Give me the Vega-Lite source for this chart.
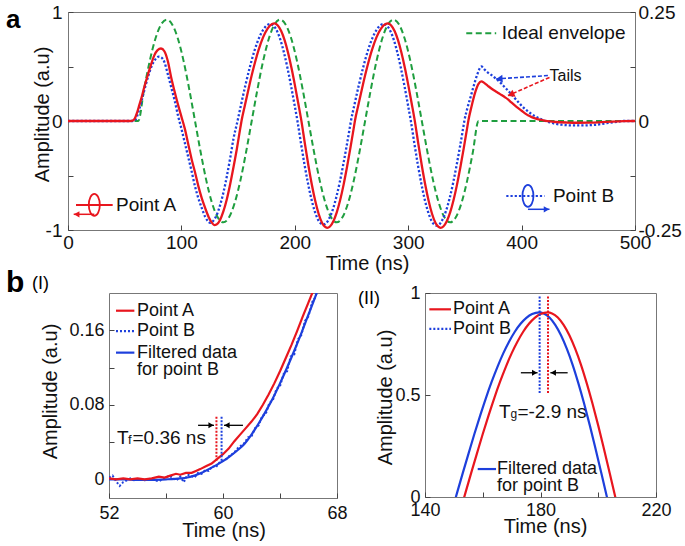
{
"$schema": "https://vega.github.io/schema/vega-lite/v6.json",
"padding": {"left": 5, "top": 2, "right": 0, "bottom": 0},
"background": "white",
"bounds": "flush",
"spacing": 63,
"config": {
  "font": "Liberation Sans",
  "view": {"stroke": "#777", "strokeWidth": 1},
  "axis": {"domain": false, "grid": false, "ticks": true, "tickSize": -5, "tickColor": "#444", "labelFont": "Liberation Sans", "labelFontSize": 19, "labelColor": "#111", "titleFont": "Liberation Sans", "titleFontSize": 20, "titleFontWeight": "normal", "titleColor": "#111", "labelPadding": 10, "labelFlush": false, "labelOverlap": false, "titleBaseline": "middle"},
  "title": {"font": "Liberation Sans", "color": "#000", "offset": 0}
},
"datasets": {
  "aRed": [{"t":0,"v":0},{"t":30,"v":0},{"t":55,"v":0},{"t":57,"v":0.003},{"t":59,"v":0.025},{"t":61,"v":0.08},{"t":63,"v":0.15},{"t":65,"v":0.22},{"t":67,"v":0.3},{"t":70,"v":0.41},{"t":73,"v":0.51},{"t":76,"v":0.6},{"t":79,"v":0.65},{"t":82,"v":0.665},{"t":85,"v":0.64},{"t":88,"v":0.55},{"t":91,"v":0.4},{"t":94,"v":0.27},{"t":97,"v":0.15},{"t":100,"v":0.04},{"t":103,"v":-0.07},{"t":106,"v":-0.21},{"t":109,"v":-0.35},{"t":112,"v":-0.47},{"t":115,"v":-0.6},{"t":118,"v":-0.71},{"t":121,"v":-0.8},{"t":124,"v":-0.88},{"t":127,"v":-0.935},{"t":129,"v":-0.955},{"t":131,"v":-0.95},{"t":134,"v":-0.91},{"t":137,"v":-0.83},{"t":140,"v":-0.72},{"t":143,"v":-0.58},{"t":146,"v":-0.42},{"t":149,"v":-0.25},{"t":152,"v":-0.06},{"t":153,"v":0},
    {"t":156,"v":0.145},{"t":160,"v":0.331},{"t":164,"v":0.502},{"t":168,"v":0.65},{"t":172,"v":0.767},{"t":176,"v":0.848},{"t":180,"v":0.89},{"t":182,"v":0.895},{"t":185,"v":0.877},{"t":188,"v":0.826},{"t":191,"v":0.742},{"t":194,"v":0.629},{"t":197,"v":0.491},{"t":200,"v":0.334},{"t":203,"v":0.165},{"t":206,"v":-0.01},{"t":209,"v":-0.215},{"t":212,"v":-0.408},{"t":215,"v":-0.583},{"t":218,"v":-0.732},{"t":221,"v":-0.851},{"t":224,"v":-0.933},{"t":226.5,"v":-0.97},{"t":228.5,"v":-0.98},{"t":231,"v":-0.968},{"t":234,"v":-0.919},{"t":237,"v":-0.838},{"t":240,"v":-0.725},{"t":243,"v":-0.586},{"t":246,"v":-0.425},{"t":249,"v":-0.249},{"t":252,"v":-0.063},{"t":253,"v":0},
    {"t":256,"v":0.145},{"t":260,"v":0.331},{"t":264,"v":0.502},{"t":268,"v":0.65},{"t":272,"v":0.767},{"t":276,"v":0.848},{"t":280,"v":0.89},{"t":282,"v":0.895},{"t":285,"v":0.877},{"t":288,"v":0.826},{"t":291,"v":0.742},{"t":294,"v":0.629},{"t":297,"v":0.491},{"t":300,"v":0.334},{"t":303,"v":0.165},{"t":306,"v":-0.01},{"t":309,"v":-0.215},{"t":312,"v":-0.408},{"t":315,"v":-0.583},{"t":318,"v":-0.732},{"t":321,"v":-0.851},{"t":324,"v":-0.933},{"t":326.5,"v":-0.97},{"t":328.5,"v":-0.98},{"t":331,"v":-0.968},{"t":334,"v":-0.919},{"t":337,"v":-0.838},{"t":340,"v":-0.725},{"t":343,"v":-0.586},{"t":346,"v":-0.425},{"t":349,"v":-0.249},{"t":352,"v":-0.063},{"t":353,"v":0},
    {"t":356,"v":0.14},{"t":359,"v":0.26},{"t":362,"v":0.34},{"t":364.5,"v":0.364},{"t":367,"v":0.35},{"t":370,"v":0.325},{"t":373,"v":0.3},{"t":376,"v":0.279},{"t":379,"v":0.26},{"t":382,"v":0.24},{"t":385,"v":0.22},{"t":388,"v":0.198},{"t":391,"v":0.17},{"t":394,"v":0.143},{"t":397,"v":0.118},{"t":400,"v":0.094},{"t":403,"v":0.07},{"t":406,"v":0.05},{"t":409,"v":0.036},{"t":412,"v":0.024},{"t":416,"v":0.012},{"t":420,"v":0.004},{"t":425,"v":-0.004},{"t":430,"v":-0.009},{"t":440,"v":-0.014},{"t":450,"v":-0.016},{"t":460,"v":-0.015},{"t":470,"v":-0.011},{"t":480,"v":-0.006},{"t":490,"v":-0.002},{"t":500,"v":0}],
  "aBlue": [{"t":0,"v":0},{"t":30,"v":0},{"t":56,"v":0},{"t":58,"v":0.003},{"t":60,"v":0.02},{"t":62,"v":0.08},{"t":64,"v":0.15},{"t":66,"v":0.23},{"t":68,"v":0.31},{"t":71,"v":0.42},{"t":74,"v":0.51},{"t":77,"v":0.565},{"t":80,"v":0.59},{"t":82,"v":0.585},{"t":85,"v":0.54},{"t":88,"v":0.43},{"t":91,"v":0.31},{"t":94,"v":0.19},{"t":97,"v":0.05},{"t":100,"v":-0.07},{"t":103,"v":-0.2},{"t":106,"v":-0.33},{"t":109,"v":-0.46},{"t":112,"v":-0.6},{"t":115,"v":-0.71},{"t":118,"v":-0.8},{"t":121,"v":-0.88},{"t":123.5,"v":-0.92},{"t":125.5,"v":-0.935},{"t":128,"v":-0.917},{"t":131,"v":-0.866},{"t":134,"v":-0.777},{"t":137,"v":-0.658},{"t":140,"v":-0.511},{"t":143,"v":-0.341},{"t":146,"v":-0.158},{"t":149.5,"v":0},
    {"t":152.5,"v":0.145},{"t":156.5,"v":0.331},{"t":160.5,"v":0.5},{"t":164.5,"v":0.647},{"t":168.5,"v":0.763},{"t":172.5,"v":0.843},{"t":176.5,"v":0.885},{"t":178.5,"v":0.89},{"t":181.5,"v":0.872},{"t":184.5,"v":0.821},{"t":187.5,"v":0.738},{"t":190.5,"v":0.625},{"t":193.5,"v":0.488},{"t":196.5,"v":0.332},{"t":199.5,"v":0.164},{"t":202.5,"v":-0.01},{"t":205.5,"v":-0.208},{"t":208.5,"v":-0.396},{"t":211.5,"v":-0.565},{"t":214.5,"v":-0.71},{"t":217.5,"v":-0.825},{"t":220.5,"v":-0.905},{"t":223,"v":-0.94},{"t":225,"v":-0.95},{"t":227.5,"v":-0.939},{"t":230.5,"v":-0.891},{"t":233.5,"v":-0.813},{"t":236.5,"v":-0.703},{"t":239.5,"v":-0.568},{"t":242.5,"v":-0.412},{"t":245.5,"v":-0.242},{"t":248.5,"v":-0.061},{"t":249.5,"v":0},
    {"t":252.5,"v":0.145},{"t":256.5,"v":0.331},{"t":260.5,"v":0.5},{"t":264.5,"v":0.647},{"t":268.5,"v":0.763},{"t":272.5,"v":0.843},{"t":276.5,"v":0.885},{"t":278.5,"v":0.89},{"t":281.5,"v":0.872},{"t":284.5,"v":0.821},{"t":287.5,"v":0.738},{"t":290.5,"v":0.625},{"t":293.5,"v":0.488},{"t":296.5,"v":0.332},{"t":299.5,"v":0.164},{"t":302.5,"v":-0.01},{"t":305.5,"v":-0.21},{"t":308.5,"v":-0.4},{"t":311.5,"v":-0.57},{"t":314.5,"v":-0.717},{"t":317.5,"v":-0.833},{"t":320.5,"v":-0.914},{"t":323,"v":-0.95},{"t":325,"v":-0.96},{"t":327.5,"v":-0.948},{"t":330.5,"v":-0.9},{"t":333.5,"v":-0.82},{"t":336.5,"v":-0.71},{"t":339.5,"v":-0.574},{"t":342.5,"v":-0.416},{"t":345.5,"v":-0.245},{"t":348.5,"v":-0.062},{"t":349.5,"v":0},
    {"t":352,"v":0.11},{"t":355,"v":0.22},{"t":358,"v":0.33},{"t":361,"v":0.43},{"t":364.5,"v":0.5},{"t":367,"v":0.475},{"t":370,"v":0.447},{"t":373,"v":0.425},{"t":376,"v":0.4},{"t":379,"v":0.375},{"t":382,"v":0.345},{"t":385,"v":0.312},{"t":388,"v":0.28},{"t":391,"v":0.245},{"t":394,"v":0.21},{"t":397,"v":0.175},{"t":400,"v":0.14},{"t":403,"v":0.11},{"t":406,"v":0.085},{"t":409,"v":0.062},{"t":412,"v":0.043},{"t":415,"v":0.026},{"t":418,"v":0.012},{"t":421,"v":0},{"t":425,"v":-0.013},{"t":430,"v":-0.026},{"t":435,"v":-0.034},{"t":445,"v":-0.04},{"t":455,"v":-0.04},{"t":465,"v":-0.035},{"t":475,"v":-0.02},{"t":485,"v":-0.006},{"t":490,"v":0},{"t":500,"v":0}],
  "aGreen": [{"t":0,"v":0},{"t":62,"v":0},{"t":67,"v":0.287},{"t":72,"v":0.547},{"t":77,"v":0.752},{"t":82,"v":0.884},{"t":87,"v":0.93},{"t":92,"v":0.884},{"t":97,"v":0.752},{"t":102,"v":0.547},{"t":107,"v":0.287},{"t":112,"v":0},{"t":117,"v":-0.287},{"t":122,"v":-0.547},{"t":127,"v":-0.752},{"t":132,"v":-0.884},{"t":137,"v":-0.93},{"t":142,"v":-0.884},{"t":147,"v":-0.752},{"t":152,"v":-0.547},{"t":157,"v":-0.287},{"t":162,"v":0},
    {"t":167,"v":0.287},{"t":172,"v":0.547},{"t":177,"v":0.752},{"t":182,"v":0.884},{"t":187,"v":0.93},{"t":192,"v":0.884},{"t":197,"v":0.752},{"t":202,"v":0.547},{"t":207,"v":0.287},{"t":212,"v":0},{"t":217,"v":-0.287},{"t":222,"v":-0.547},{"t":227,"v":-0.752},{"t":232,"v":-0.884},{"t":237,"v":-0.93},{"t":242,"v":-0.884},{"t":247,"v":-0.752},{"t":252,"v":-0.547},{"t":257,"v":-0.287},{"t":262,"v":0},
    {"t":267,"v":0.287},{"t":272,"v":0.547},{"t":277,"v":0.752},{"t":282,"v":0.884},{"t":287,"v":0.93},{"t":292,"v":0.884},{"t":297,"v":0.752},{"t":302,"v":0.547},{"t":307,"v":0.287},{"t":312,"v":0},{"t":317,"v":-0.287},{"t":322,"v":-0.547},{"t":327,"v":-0.752},{"t":332,"v":-0.884},{"t":337,"v":-0.93},{"t":342,"v":-0.884},{"t":347,"v":-0.752},{"t":352,"v":-0.547},{"t":357,"v":-0.287},{"t":362,"v":0},{"t":500,"v":0}],
  "aEnvKey": [{"t":351.2,"v":0.806},{"t":377.6,"v":0.806}],
  "aTexts": [{"t":382.6,"v":0.806,"label":"Ideal envelope"},{"t":42.4,"v":-0.77,"label":"Point A"},{"t":427.6,"v":-0.687,"label":"Point B"}],
  "aTails": [{"t":424.6,"v":0.417,"label":"Tails"}],
  "aTailBlue": [{"t1":423.2,"v1":0.417,"t2":377.6,"v2":0.386}],
  "aTailRed": [{"t1":424.6,"v1":0.4,"t2":388,"v2":0.233}],
  "aPolA": [{"t1":7.06,"t2":39.4,"v":-0.77,"c":23.2}],
  "aPolAArrow": [{"t1":23.2,"t2":5.0,"v":-0.856}],
  "aPolB": [{"t1":386.5,"t2":420.2,"v":-0.687,"c":405.6}],
  "aPolBArrow": [{"t1":405.6,"t2":424.6,"v":-0.81}],
  "b1Red": [{"t":52,"v":0.001},{"t":52.5,"v":0},{"t":53,"v":0.001},{"t":53.5,"v":0},{"t":54,"v":0.001},{"t":54.5,"v":0},{"t":55,"v":0.001},{"t":55.5,"v":0.003},{"t":55.9,"v":0.002},{"t":56.3,"v":0.004},{"t":56.7,"v":0.006},{"t":57,"v":0.005},{"t":57.4,"v":0.007},{"t":57.8,"v":0.007},{"t":58.1,"v":0.009},{"t":58.4,"v":0.011},{"t":58.8,"v":0.014},{"t":59.2,"v":0.017},{"t":59.6,"v":0.022},{"t":60,"v":0.027},{"t":60.4,"v":0.033},{"t":60.8,"v":0.041},{"t":61.2,"v":0.048},{"t":61.6,"v":0.055},{"t":62,"v":0.062},{"t":62.4,"v":0.07},{"t":62.8,"v":0.08},{"t":63.2,"v":0.091},{"t":63.6,"v":0.103},{"t":64,"v":0.116},{"t":64.4,"v":0.13},{"t":64.8,"v":0.144},{"t":65.2,"v":0.159},{"t":65.6,"v":0.175},{"t":66,"v":0.19},{"t":66.4,"v":0.205}],
  "b1BlueF": [{"t":52,"v":0},{"t":53,"v":0},{"t":54,"v":-0.0005},{"t":55,"v":-0.0005},{"t":56,"v":0},{"t":57,"v":0.001},{"t":57.5,"v":0.002},{"t":58,"v":0.004},{"t":58.5,"v":0.007},{"t":59,"v":0.011},{"t":59.5,"v":0.015},{"t":60,"v":0.0195},{"t":60.5,"v":0.025},{"t":61,"v":0.031},{"t":61.5,"v":0.038},{"t":62,"v":0.048},{"t":62.5,"v":0.06},{"t":63,"v":0.073},{"t":63.5,"v":0.087},{"t":64,"v":0.103},{"t":64.5,"v":0.12},{"t":65,"v":0.138},{"t":65.5,"v":0.157},{"t":66,"v":0.177},{"t":66.5,"v":0.197},{"t":66.8,"v":0.21}],
  "b1BlueRaw": [{"t":52,"v":0.002},{"t":52.25,"v":0.004},{"t":52.5,"v":-0.002},{"t":52.75,"v":-0.007},{"t":53,"v":-0.003},{"t":53.25,"v":-0.001},{"t":53.5,"v":0.001},{"t":53.75,"v":-0.001},{"t":54,"v":0},{"t":54.5,"v":-0.001},{"t":55,"v":0},{"t":55.5,"v":-0.002},{"t":56,"v":0.002},{"t":56.25,"v":0.004},{"t":56.5,"v":0.001},{"t":56.75,"v":-0.001},{"t":57,"v":0.003},{"t":57.25,"v":-0.003},{"t":57.5,"v":0.005},{"t":57.75,"v":0.004},{"t":58,"v":0.002},{"t":58.25,"v":0.007},{"t":58.5,"v":0.006},{"t":58.75,"v":0.01},{"t":59,"v":0.009},{"t":59.25,"v":0.014},{"t":59.5,"v":0.013},{"t":59.75,"v":0.018},{"t":60,"v":0.02},{"t":60.25,"v":0.022},{"t":60.5,"v":0.026},{"t":60.75,"v":0.028},{"t":61,"v":0.033},{"t":61.25,"v":0.036},{"t":61.5,"v":0.039},{"t":61.75,"v":0.045},{"t":62,"v":0.046},{"t":62.25,"v":0.055},{"t":62.5,"v":0.058},{"t":62.75,"v":0.068},{"t":63,"v":0.07},{"t":63.25,"v":0.082},{"t":63.5,"v":0.085},{"t":63.75,"v":0.097},{"t":64,"v":0.1},{"t":64.25,"v":0.113},{"t":64.5,"v":0.116},{"t":64.75,"v":0.132},{"t":65,"v":0.134},{"t":65.25,"v":0.15},{"t":65.5,"v":0.155},{"t":65.75,"v":0.17},{"t":66,"v":0.175},{"t":66.25,"v":0.19},{"t":66.5,"v":0.196},{"t":66.75,"v":0.21}],
  "b1VRed": [{"t":59.54,"v1":0.02,"v2":0.068}],
  "b1VBlue": [{"t":59.9,"v1":0.02,"v2":0.068}],
  "b1ArrR": [{"t1":58.25,"t2":59.37,"v":0.058}],
  "b1ArrL": [{"t1":61.4,"t2":60.07,"v":0.058}],
  "b1T": [{"t":52.56,"v":0.038,"big":"T","small":"f","rest":"=0.36 ns"}],
  "b1KeyRed": [{"t1":52.49,"t2":53.78,"v":0.181}],
  "b1KeyBlueDot": [{"t1":52.49,"t2":53.78,"v":0.159}],
  "b1KeyBlue": [{"t1":52.49,"t2":53.78,"v":0.136}],
  "b1KeyText": [{"t":53.96,"v":0.181,"label":"Point A"},{"t":53.96,"v":0.159,"label":"Point B"},{"t":53.96,"v":0.136,"label":"Filtered data"},{"t":53.96,"v":0.117,"label":"for point B"}],
  "b2Red": [{"t":152,"v":-0.079},{"t":154,"v":0.02},{"t":156,"v":0.118},{"t":158,"v":0.214},{"t":160,"v":0.309},{"t":162,"v":0.399},{"t":164,"v":0.485},{"t":166,"v":0.565},{"t":168,"v":0.638},{"t":170,"v":0.704},{"t":172,"v":0.761},{"t":174,"v":0.81},{"t":176,"v":0.849},{"t":178,"v":0.878},{"t":180,"v":0.897},{"t":182.5,"v":0.905},{"t":184,"v":0.9},{"t":186,"v":0.88},{"t":188,"v":0.844},{"t":190,"v":0.793},{"t":192,"v":0.727},{"t":194,"v":0.649},{"t":196,"v":0.558},{"t":198,"v":0.458},{"t":200,"v":0.35},{"t":202,"v":0.234},{"t":204,"v":0.115},{"t":206,"v":-0.006},{"t":208,"v":-0.127}],
  "b2Blue": [{"t":149.1,"v":-0.079},{"t":151.1,"v":0.02},{"t":153.1,"v":0.118},{"t":155.1,"v":0.214},{"t":157.1,"v":0.309},{"t":159.1,"v":0.399},{"t":161.1,"v":0.485},{"t":163.1,"v":0.565},{"t":165.1,"v":0.638},{"t":167.1,"v":0.704},{"t":169.1,"v":0.761},{"t":171.1,"v":0.81},{"t":173.1,"v":0.849},{"t":175.1,"v":0.878},{"t":177.1,"v":0.897},{"t":179.6,"v":0.905},{"t":181.1,"v":0.9},{"t":183.1,"v":0.88},{"t":185.1,"v":0.844},{"t":187.1,"v":0.793},{"t":189.1,"v":0.727},{"t":191.1,"v":0.649},{"t":193.1,"v":0.558},{"t":195.1,"v":0.458},{"t":197.1,"v":0.35},{"t":199.1,"v":0.234},{"t":201.1,"v":0.115},{"t":203.1,"v":-0.006},{"t":205.1,"v":-0.127}],
  "b2VRed": [{"t":182.6,"v1":0.51,"v2":0.985}],
  "b2VBlue": [{"t":179.7,"v1":0.51,"v2":0.985}],
  "b2ArrR": [{"t1":173.2,"t2":179.0,"v":0.609}],
  "b2ArrL": [{"t1":189.4,"t2":183.4,"v":0.609}],
  "b2T": [{"t":165.6,"v":0.387,"big":"T","small":"g","rest":"=-2.9 ns"}],
  "b2KeyRed": [{"t1":141.5,"t2":149.0,"v":0.92}],
  "b2KeyBlueDot": [{"t1":141.5,"t2":149.0,"v":0.824}],
  "b2KeyBlue": [{"t1":158.25,"t2":164.6,"v":0.137}],
  "b2KeyText": [{"t":149.7,"v":0.92,"label":"Point A"},{"t":149.7,"v":0.824,"label":"Point B"},{"t":164.9,"v":0.137,"label":"Filtered data"},{"t":164.9,"v":0.054,"label":"for point B"}]
},
"vconcat": [
{
  "width": 567, "height": 218,
  "title": {"text": "a", "anchor": "start", "frame": "group", "fontSize": 26, "fontWeight": "bold", "dx": -62, "dy": 55, "baseline": "alphabetic"},
  "resolve": {"scale": {"y": "independent"}, "axis": {"y": "independent"}},
  "layer": [
    {"layer": [
      {"mark": {"type": "rule", "color": "#555", "strokeDash": [3, 2], "strokeWidth": 1},
       "encoding": {"y": {"datum": 0, "type": "quantitative", "scale": {"domain": [-1, 1], "nice": false},
         "axis": {"orient": "left", "title": "Amplitude (a.u)", "values": [-1, -0.5, 0, 0.5, 1], "labelExpr": "abs(datum.value) == 0.5 ? '' : '' + datum.value", "labelPadding": 11, "titleX": -26, "titleY": 102}}}},
      {"data": {"name": "aGreen"}, "mark": {"type": "line", "color": "#1f9e3f", "strokeDash": [6, 3.5], "strokeWidth": 2, "interpolate": "monotone"},
       "encoding": {"x": {"field": "t", "type": "quantitative", "scale": {"domain": [0, 500], "nice": false},
          "axis": {"title": "Time (ns)", "values": [0, 100, 200, 300, 400, 500], "labelExpr": "'' + datum.value", "labelPadding": 8, "titleX": 299, "titleY": 33}},
         "y": {"field": "v", "type": "quantitative", "scale": {"domain": [-1, 1], "nice": false}}}},
      {"data": {"name": "aBlue"}, "mark": {"type": "line", "color": "#1d3fdc", "strokeDash": [2.2, 2], "strokeWidth": 2.3, "interpolate": "monotone"},
       "encoding": {"x": {"field": "t", "type": "quantitative", "scale": {"domain": [0, 500], "nice": false}},
         "y": {"field": "v", "type": "quantitative", "scale": {"domain": [-1, 1], "nice": false}}}},
      {"data": {"name": "aRed"}, "mark": {"type": "line", "color": "#e8161e", "strokeWidth": 2.3, "interpolate": "monotone"},
       "encoding": {"x": {"field": "t", "type": "quantitative", "scale": {"domain": [0, 500], "nice": false}},
         "y": {"field": "v", "type": "quantitative", "scale": {"domain": [-1, 1], "nice": false}}}},
      {"data": {"name": "aEnvKey"}, "mark": {"type": "line", "color": "#1f9e3f", "strokeDash": [6, 3.5], "strokeWidth": 2},
       "encoding": {"x": {"field": "t", "type": "quantitative", "scale": {"domain": [0, 500], "nice": false}},
         "y": {"field": "v", "type": "quantitative", "scale": {"domain": [-1, 1], "nice": false}}}},
      {"data": {"name": "aTexts"}, "mark": {"type": "text", "align": "left", "baseline": "middle", "fontSize": 19, "color": "#111"},
       "encoding": {"x": {"field": "t", "type": "quantitative", "scale": {"domain": [0, 500], "nice": false}},
         "y": {"field": "v", "type": "quantitative", "scale": {"domain": [-1, 1], "nice": false}},
         "text": {"field": "label"}}},
      {"data": {"name": "aTails"}, "mark": {"type": "text", "align": "left", "baseline": "middle", "fontSize": 16, "color": "#111"},
       "encoding": {"x": {"field": "t", "type": "quantitative", "scale": {"domain": [0, 500], "nice": false}},
         "y": {"field": "v", "type": "quantitative", "scale": {"domain": [-1, 1], "nice": false}},
         "text": {"field": "label"}}},
      {"data": {"name": "aTailBlue"}, "mark": {"type": "rule", "color": "#1d3fdc", "strokeDash": [4, 2], "strokeWidth": 1.6},
       "encoding": {"x": {"field": "t1", "type": "quantitative", "scale": {"domain": [0, 500], "nice": false}}, "x2": {"field": "t2"},
         "y": {"field": "v1", "type": "quantitative", "scale": {"domain": [-1, 1], "nice": false}}, "y2": {"field": "v2"}}},
      {"data": {"name": "aTailBlue"}, "mark": {"type": "point", "shape": "triangle-left", "filled": true, "color": "#1d3fdc", "opacity": 1, "size": 60, "angle": 356, "xOffset": 3},
       "encoding": {"x": {"field": "t2", "type": "quantitative", "scale": {"domain": [0, 500], "nice": false}},
         "y": {"field": "v2", "type": "quantitative", "scale": {"domain": [-1, 1], "nice": false}}}},
      {"data": {"name": "aTailRed"}, "mark": {"type": "rule", "color": "#e8161e", "strokeDash": [4, 2], "strokeWidth": 1.6},
       "encoding": {"x": {"field": "t1", "type": "quantitative", "scale": {"domain": [0, 500], "nice": false}}, "x2": {"field": "t2"},
         "y": {"field": "v1", "type": "quantitative", "scale": {"domain": [-1, 1], "nice": false}}, "y2": {"field": "v2"}}},
      {"data": {"name": "aTailRed"}, "mark": {"type": "point", "shape": "triangle-left", "filled": true, "color": "#e8161e", "opacity": 1, "size": 60, "angle": 336, "xOffset": 3, "yOffset": -1},
       "encoding": {"x": {"field": "t2", "type": "quantitative", "scale": {"domain": [0, 500], "nice": false}},
         "y": {"field": "v2", "type": "quantitative", "scale": {"domain": [-1, 1], "nice": false}}}},
      {"data": {"name": "aPolA"}, "mark": {"type": "rule", "color": "#e8161e", "strokeWidth": 2},
       "encoding": {"x": {"field": "t1", "type": "quantitative", "scale": {"domain": [0, 500], "nice": false}}, "x2": {"field": "t2"},
         "y": {"field": "v", "type": "quantitative", "scale": {"domain": [-1, 1], "nice": false}}}},
      {"data": {"name": "aPolA"}, "mark": {"type": "point", "shape": "M0,-1A0.5,1,0,1,1,0,1A0.5,1,0,1,1,0,-1Z", "filled": false, "color": "#e8161e", "opacity": 1, "size": 484, "strokeWidth": 1.8},
       "encoding": {"x": {"field": "c", "type": "quantitative", "scale": {"domain": [0, 500], "nice": false}},
         "y": {"field": "v", "type": "quantitative", "scale": {"domain": [-1, 1], "nice": false}}}},
      {"data": {"name": "aPolAArrow"}, "mark": {"type": "rule", "color": "#e8161e", "strokeWidth": 1.5},
       "encoding": {"x": {"field": "t1", "type": "quantitative", "scale": {"domain": [0, 500], "nice": false}}, "x2": {"field": "t2"},
         "y": {"field": "v", "type": "quantitative", "scale": {"domain": [-1, 1], "nice": false}}}},
      {"data": {"name": "aPolAArrow"}, "mark": {"type": "point", "shape": "triangle-left", "filled": true, "color": "#e8161e", "opacity": 1, "size": 40, "xOffset": 3},
       "encoding": {"x": {"field": "t2", "type": "quantitative", "scale": {"domain": [0, 500], "nice": false}},
         "y": {"field": "v", "type": "quantitative", "scale": {"domain": [-1, 1], "nice": false}}}},
      {"data": {"name": "aPolB"}, "mark": {"type": "rule", "color": "#1d3fdc", "strokeWidth": 2, "strokeDash": [2.2, 2]},
       "encoding": {"x": {"field": "t1", "type": "quantitative", "scale": {"domain": [0, 500], "nice": false}}, "x2": {"field": "t2"},
         "y": {"field": "v", "type": "quantitative", "scale": {"domain": [-1, 1], "nice": false}}}},
      {"data": {"name": "aPolB"}, "mark": {"type": "point", "shape": "M0,-1A0.5,1,0,1,1,0,1A0.5,1,0,1,1,0,-1Z", "filled": false, "color": "#1d3fdc", "opacity": 1, "size": 484, "strokeWidth": 1.8},
       "encoding": {"x": {"field": "c", "type": "quantitative", "scale": {"domain": [0, 500], "nice": false}},
         "y": {"field": "v", "type": "quantitative", "scale": {"domain": [-1, 1], "nice": false}}}},
      {"data": {"name": "aPolBArrow"}, "mark": {"type": "rule", "color": "#1d3fdc", "strokeWidth": 1.5},
       "encoding": {"x": {"field": "t1", "type": "quantitative", "scale": {"domain": [0, 500], "nice": false}}, "x2": {"field": "t2"},
         "y": {"field": "v", "type": "quantitative", "scale": {"domain": [-1, 1], "nice": false}}}},
      {"data": {"name": "aPolBArrow"}, "mark": {"type": "point", "shape": "triangle-right", "filled": true, "color": "#1d3fdc", "opacity": 1, "size": 40, "xOffset": -3},
       "encoding": {"x": {"field": "t2", "type": "quantitative", "scale": {"domain": [0, 500], "nice": false}},
         "y": {"field": "v", "type": "quantitative", "scale": {"domain": [-1, 1], "nice": false}}}}
    ]},
    {"data": {"values": [{"r": 0}]}, "mark": {"type": "point", "opacity": 0},
     "encoding": {"y": {"field": "r", "type": "quantitative", "scale": {"domain": [-0.25, 0.25], "nice": false},
       "axis": {"orient": "right", "title": null, "values": [-0.25, -0.125, 0, 0.125, 0.25], "labelExpr": "abs(datum.value) == 0.125 ? '' : '' + datum.value", "labelPadding": 8}}}}
  ]
},
{
  "title": {"text": "b", "anchor": "start", "frame": "group", "fontSize": 30, "fontWeight": "bold", "dx": -62, "dy": 51, "baseline": "alphabetic"},
  "bounds": "flush",
  "spacing": 40,
  "hconcat": [
    {"width": 1, "height": 1, "data": {"values": [{}]}, "mark": {"type": "point", "opacity": 0}, "view": {"stroke": null}},
    {"bounds": "flush", "spacing": 88, "hconcat": [
      {"width": 228, "height": 205,
       "title": {"text": "(I)", "anchor": "start", "frame": "group", "fontSize": 18, "fontWeight": "normal", "dx": -77, "dy": 18, "baseline": "alphabetic"},
       "layer": [
        {"mark": {"type": "rule", "color": "#333", "strokeDash": [4, 3], "strokeWidth": 1},
         "encoding": {"y": {"datum": 0, "type": "quantitative", "scale": {"domain": [-0.02, 0.2], "nice": false},
           "axis": {"title": "Amplitude (a.u)", "values": [0, 0.04, 0.08, 0.12, 0.16], "labelExpr": "datum.value == 0.04 || datum.value == 0.12 ? '' : '' + datum.value", "labelFontSize": 18, "labelPadding": 10, "titleX": -59, "titleY": 98}}}},
        {"mark": {"type": "rule", "color": "#222", "strokeDash": [5, 4], "strokeWidth": 1.3},
         "encoding": {"y": {"datum": 0.02, "type": "quantitative", "scale": {"domain": [-0.02, 0.2], "nice": false}}}},
        {"data": {"name": "b1BlueRaw"}, "mark": {"type": "line", "color": "#1d3fdc", "strokeDash": [2, 2], "strokeWidth": 2, "clip": true},
         "encoding": {"x": {"field": "t", "type": "quantitative", "scale": {"domain": [52, 68], "nice": false},
            "axis": {"title": "Time (ns)", "values": [52, 56, 60, 64, 68], "labelExpr": "datum.value % 8 == 0 ? '' : '' + datum.value", "labelFontSize": 18, "labelPadding": 11, "titleX": 114.5, "titleY": 32}},
           "y": {"field": "v", "type": "quantitative", "scale": {"domain": [-0.02, 0.2], "nice": false}}}},
        {"data": {"name": "b1BlueF"}, "mark": {"type": "line", "color": "#1d3fdc", "strokeWidth": 2.2, "interpolate": "monotone", "clip": true},
         "encoding": {"x": {"field": "t", "type": "quantitative", "scale": {"domain": [52, 68], "nice": false}},
           "y": {"field": "v", "type": "quantitative", "scale": {"domain": [-0.02, 0.2], "nice": false}}}},
        {"data": {"name": "b1Red"}, "mark": {"type": "line", "color": "#e8161e", "strokeWidth": 2.2, "clip": true},
         "encoding": {"x": {"field": "t", "type": "quantitative", "scale": {"domain": [52, 68], "nice": false}},
           "y": {"field": "v", "type": "quantitative", "scale": {"domain": [-0.02, 0.2], "nice": false}}}},
        {"data": {"name": "b1VRed"}, "mark": {"type": "rule", "color": "#e8161e", "strokeDash": [2, 1.5], "strokeWidth": 2},
         "encoding": {"x": {"field": "t", "type": "quantitative", "scale": {"domain": [52, 68], "nice": false}},
           "y": {"field": "v1", "type": "quantitative", "scale": {"domain": [-0.02, 0.2], "nice": false}}, "y2": {"field": "v2"}}},
        {"data": {"name": "b1VBlue"}, "mark": {"type": "rule", "color": "#1d3fdc", "strokeDash": [2, 1.5], "strokeWidth": 2},
         "encoding": {"x": {"field": "t", "type": "quantitative", "scale": {"domain": [52, 68], "nice": false}},
           "y": {"field": "v1", "type": "quantitative", "scale": {"domain": [-0.02, 0.2], "nice": false}}, "y2": {"field": "v2"}}},
        {"data": {"name": "b1ArrR"}, "mark": {"type": "rule", "color": "#000", "strokeWidth": 1.3},
         "encoding": {"x": {"field": "t1", "type": "quantitative", "scale": {"domain": [52, 68], "nice": false}}, "x2": {"field": "t2"},
           "y": {"field": "v", "type": "quantitative", "scale": {"domain": [-0.02, 0.2], "nice": false}}}},
        {"data": {"name": "b1ArrR"}, "mark": {"type": "point", "shape": "triangle-right", "filled": true, "color": "#000", "opacity": 1, "size": 36, "xOffset": -3},
         "encoding": {"x": {"field": "t2", "type": "quantitative", "scale": {"domain": [52, 68], "nice": false}},
           "y": {"field": "v", "type": "quantitative", "scale": {"domain": [-0.02, 0.2], "nice": false}}}},
        {"data": {"name": "b1ArrL"}, "mark": {"type": "rule", "color": "#000", "strokeWidth": 1.3},
         "encoding": {"x": {"field": "t1", "type": "quantitative", "scale": {"domain": [52, 68], "nice": false}}, "x2": {"field": "t2"},
           "y": {"field": "v", "type": "quantitative", "scale": {"domain": [-0.02, 0.2], "nice": false}}}},
        {"data": {"name": "b1ArrL"}, "mark": {"type": "point", "shape": "triangle-left", "filled": true, "color": "#000", "opacity": 1, "size": 36, "xOffset": 3},
         "encoding": {"x": {"field": "t2", "type": "quantitative", "scale": {"domain": [52, 68], "nice": false}},
           "y": {"field": "v", "type": "quantitative", "scale": {"domain": [-0.02, 0.2], "nice": false}}}},
        {"data": {"name": "b1T"}, "mark": {"type": "text", "align": "left", "baseline": "alphabetic", "fontSize": 19, "color": "#111"},
         "encoding": {"x": {"field": "t", "type": "quantitative", "scale": {"domain": [52, 68], "nice": false}},
           "y": {"field": "v", "type": "quantitative", "scale": {"domain": [-0.02, 0.2], "nice": false}}, "text": {"field": "big"}}},
        {"data": {"name": "b1T"}, "mark": {"type": "text", "align": "left", "baseline": "alphabetic", "fontSize": 13, "color": "#111", "dx": 11},
         "encoding": {"x": {"field": "t", "type": "quantitative", "scale": {"domain": [52, 68], "nice": false}},
           "y": {"field": "v", "type": "quantitative", "scale": {"domain": [-0.02, 0.2], "nice": false}}, "text": {"field": "small"}}},
        {"data": {"name": "b1T"}, "mark": {"type": "text", "align": "left", "baseline": "alphabetic", "fontSize": 19, "color": "#111", "dx": 15.5},
         "encoding": {"x": {"field": "t", "type": "quantitative", "scale": {"domain": [52, 68], "nice": false}},
           "y": {"field": "v", "type": "quantitative", "scale": {"domain": [-0.02, 0.2], "nice": false}}, "text": {"field": "rest"}}},
        {"data": {"name": "b1KeyRed"}, "mark": {"type": "rule", "color": "#e8161e", "strokeWidth": 2.2},
         "encoding": {"x": {"field": "t1", "type": "quantitative", "scale": {"domain": [52, 68], "nice": false}}, "x2": {"field": "t2"},
           "y": {"field": "v", "type": "quantitative", "scale": {"domain": [-0.02, 0.2], "nice": false}}}},
        {"data": {"name": "b1KeyBlueDot"}, "mark": {"type": "rule", "color": "#1d3fdc", "strokeWidth": 2.2, "strokeDash": [2, 2]},
         "encoding": {"x": {"field": "t1", "type": "quantitative", "scale": {"domain": [52, 68], "nice": false}}, "x2": {"field": "t2"},
           "y": {"field": "v", "type": "quantitative", "scale": {"domain": [-0.02, 0.2], "nice": false}}}},
        {"data": {"name": "b1KeyBlue"}, "mark": {"type": "rule", "color": "#1d3fdc", "strokeWidth": 2.2},
         "encoding": {"x": {"field": "t1", "type": "quantitative", "scale": {"domain": [52, 68], "nice": false}}, "x2": {"field": "t2"},
           "y": {"field": "v", "type": "quantitative", "scale": {"domain": [-0.02, 0.2], "nice": false}}}},
        {"data": {"name": "b1KeyText"}, "mark": {"type": "text", "align": "left", "baseline": "middle", "fontSize": 18, "color": "#111"},
         "encoding": {"x": {"field": "t", "type": "quantitative", "scale": {"domain": [52, 68], "nice": false}},
           "y": {"field": "v", "type": "quantitative", "scale": {"domain": [-0.02, 0.2], "nice": false}}, "text": {"field": "label"}}}
       ]},
      {"width": 231, "height": 204,
       "title": {"text": "(II)", "anchor": "start", "frame": "group", "fontSize": 18, "fontWeight": "normal", "dx": -67, "dy": 42, "baseline": "alphabetic"},
       "layer": [
        {"data": {"name": "b2Blue"}, "mark": {"type": "line", "color": "#1d3fdc", "strokeWidth": 2.2, "interpolate": "monotone", "clip": true},
         "encoding": {"x": {"field": "t", "type": "quantitative", "scale": {"domain": [140, 220], "nice": false},
            "axis": {"title": "Time (ns)", "values": [140, 160, 180, 200, 220], "labelExpr": "datum.value == 160 || datum.value == 200 ? '' : '' + datum.value", "labelFontSize": 18, "labelPadding": 9, "titleX": 120, "titleY": 29}},
           "y": {"field": "v", "type": "quantitative", "scale": {"domain": [0, 1], "nice": false},
            "axis": {"title": "Amplitude (a.u)", "values": [0, 0.5, 1], "labelExpr": "'' + datum.value", "labelFontSize": 18, "labelPadding": 10, "titleX": -40, "titleY": 104}}}},
        {"data": {"name": "b2Red"}, "mark": {"type": "line", "color": "#e8161e", "strokeWidth": 2.2, "interpolate": "monotone", "clip": true},
         "encoding": {"x": {"field": "t", "type": "quantitative", "scale": {"domain": [140, 220], "nice": false}},
           "y": {"field": "v", "type": "quantitative", "scale": {"domain": [0, 1], "nice": false}}}},
        {"data": {"name": "b2VRed"}, "mark": {"type": "rule", "color": "#e8161e", "strokeDash": [2, 1.5], "strokeWidth": 2},
         "encoding": {"x": {"field": "t", "type": "quantitative", "scale": {"domain": [140, 220], "nice": false}},
           "y": {"field": "v1", "type": "quantitative", "scale": {"domain": [0, 1], "nice": false}}, "y2": {"field": "v2"}}},
        {"data": {"name": "b2VBlue"}, "mark": {"type": "rule", "color": "#1d3fdc", "strokeDash": [2, 1.5], "strokeWidth": 2},
         "encoding": {"x": {"field": "t", "type": "quantitative", "scale": {"domain": [140, 220], "nice": false}},
           "y": {"field": "v1", "type": "quantitative", "scale": {"domain": [0, 1], "nice": false}}, "y2": {"field": "v2"}}},
        {"data": {"name": "b2ArrR"}, "mark": {"type": "rule", "color": "#000", "strokeWidth": 1.3},
         "encoding": {"x": {"field": "t1", "type": "quantitative", "scale": {"domain": [140, 220], "nice": false}}, "x2": {"field": "t2"},
           "y": {"field": "v", "type": "quantitative", "scale": {"domain": [0, 1], "nice": false}}}},
        {"data": {"name": "b2ArrR"}, "mark": {"type": "point", "shape": "triangle-right", "filled": true, "color": "#000", "opacity": 1, "size": 36, "xOffset": -3},
         "encoding": {"x": {"field": "t2", "type": "quantitative", "scale": {"domain": [140, 220], "nice": false}},
           "y": {"field": "v", "type": "quantitative", "scale": {"domain": [0, 1], "nice": false}}}},
        {"data": {"name": "b2ArrL"}, "mark": {"type": "rule", "color": "#000", "strokeWidth": 1.3},
         "encoding": {"x": {"field": "t1", "type": "quantitative", "scale": {"domain": [140, 220], "nice": false}}, "x2": {"field": "t2"},
           "y": {"field": "v", "type": "quantitative", "scale": {"domain": [0, 1], "nice": false}}}},
        {"data": {"name": "b2ArrL"}, "mark": {"type": "point", "shape": "triangle-left", "filled": true, "color": "#000", "opacity": 1, "size": 36, "xOffset": 3},
         "encoding": {"x": {"field": "t2", "type": "quantitative", "scale": {"domain": [140, 220], "nice": false}},
           "y": {"field": "v", "type": "quantitative", "scale": {"domain": [0, 1], "nice": false}}}},
        {"data": {"name": "b2T"}, "mark": {"type": "text", "align": "left", "baseline": "alphabetic", "fontSize": 19, "color": "#111"},
         "encoding": {"x": {"field": "t", "type": "quantitative", "scale": {"domain": [140, 220], "nice": false}},
           "y": {"field": "v", "type": "quantitative", "scale": {"domain": [0, 1], "nice": false}}, "text": {"field": "big"}}},
        {"data": {"name": "b2T"}, "mark": {"type": "text", "align": "left", "baseline": "alphabetic", "fontSize": 12, "color": "#111", "dx": 11.5},
         "encoding": {"x": {"field": "t", "type": "quantitative", "scale": {"domain": [140, 220], "nice": false}},
           "y": {"field": "v", "type": "quantitative", "scale": {"domain": [0, 1], "nice": false}}, "text": {"field": "small"}}},
        {"data": {"name": "b2T"}, "mark": {"type": "text", "align": "left", "baseline": "alphabetic", "fontSize": 19, "color": "#111", "dx": 18.5},
         "encoding": {"x": {"field": "t", "type": "quantitative", "scale": {"domain": [140, 220], "nice": false}},
           "y": {"field": "v", "type": "quantitative", "scale": {"domain": [0, 1], "nice": false}}, "text": {"field": "rest"}}},
        {"data": {"name": "b2KeyRed"}, "mark": {"type": "rule", "color": "#e8161e", "strokeWidth": 2.2},
         "encoding": {"x": {"field": "t1", "type": "quantitative", "scale": {"domain": [140, 220], "nice": false}}, "x2": {"field": "t2"},
           "y": {"field": "v", "type": "quantitative", "scale": {"domain": [0, 1], "nice": false}}}},
        {"data": {"name": "b2KeyBlueDot"}, "mark": {"type": "rule", "color": "#1d3fdc", "strokeWidth": 2.2, "strokeDash": [2, 2]},
         "encoding": {"x": {"field": "t1", "type": "quantitative", "scale": {"domain": [140, 220], "nice": false}}, "x2": {"field": "t2"},
           "y": {"field": "v", "type": "quantitative", "scale": {"domain": [0, 1], "nice": false}}}},
        {"data": {"name": "b2KeyBlue"}, "mark": {"type": "rule", "color": "#1d3fdc", "strokeWidth": 2.2},
         "encoding": {"x": {"field": "t1", "type": "quantitative", "scale": {"domain": [140, 220], "nice": false}}, "x2": {"field": "t2"},
           "y": {"field": "v", "type": "quantitative", "scale": {"domain": [0, 1], "nice": false}}}},
        {"data": {"name": "b2KeyText"}, "mark": {"type": "text", "align": "left", "baseline": "middle", "fontSize": 18, "color": "#111"},
         "encoding": {"x": {"field": "t", "type": "quantitative", "scale": {"domain": [140, 220], "nice": false}},
           "y": {"field": "v", "type": "quantitative", "scale": {"domain": [0, 1], "nice": false}}, "text": {"field": "label"}}}
       ]}
    ]}
  ]
}
]
}
